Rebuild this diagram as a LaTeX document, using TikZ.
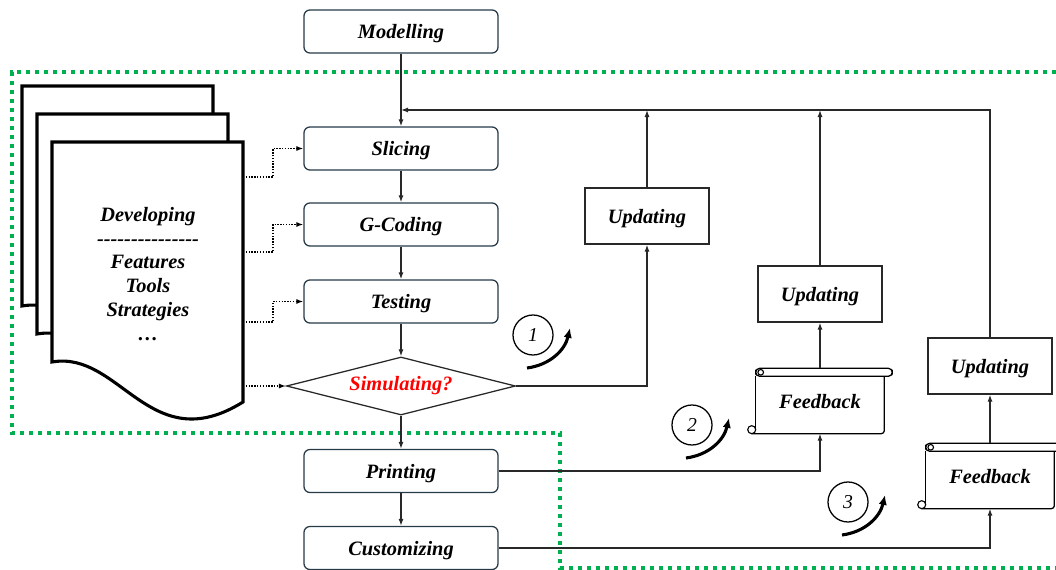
\documentclass[tikz,border=0pt]{standalone}
\usepackage{fontspec}
\setmainfont{Liberation Serif}
\usetikzlibrary{calc,arrows.meta,shapes.geometric}
\definecolor{boxline}{RGB}{38,58,72}
\definecolor{linegray}{RGB}{40,40,40}
\definecolor{zonegreen}{RGB}{0,176,80}
\newcommand\lbl{\fontsize{14.5}{17}\selectfont\bfseries\itshape}
\def\docpage(#1){\draw[docsheet,shift={(#1)}] (52,142) -- (243,142) -- (243,402) .. controls (150,460) and (120,350) .. (52,362) -- cycle;}
\def\scrollframe(#1){%
  \draw[line width=0.9pt, rounded corners=0.1cm] (#1.north west) rectangle ($(#1.north east)+(8,8)$);
  \draw[line width=0.8pt] ($(#1.north west)+(5,4)$) circle[radius=0.07cm];
  \draw[line width=0.9pt] ($(#1.north west)+(0,8)$) -- ($(#1.south west)+(0,-4)$);
  \draw[line width=0.9pt, rounded corners=0.075cm] ($(#1.north east)+(0,8)$) -- (#1.south east) -- ($(#1.south west)+(-4,0)$);
  \draw[line width=0.8pt, fill=white] ($(#1.south west)+(-4,-4)$) circle[radius=0.1cm];}

\begin{document}
\begin{tikzpicture}[x=0.025cm, y=-0.025cm,
  >={Latex[length=5pt,width=3.6pt]},
  stagebox/.style={draw=boxline, line width=0.9pt, rounded corners=0.15cm, fill=white,
    minimum width=4.85cm, minimum height=1.075cm, text depth=0pt, font=\lbl},
  choicebox/.style={diamond, draw=linegray, line width=0.9pt, aspect=4, inner sep=0pt,
    minimum width=5.72cm, minimum height=1.45cm, font=\lbl, text=red},
  updbox/.style={draw=linegray, line width=0.9pt, minimum width=3.1cm, minimum height=1.4cm,
    text depth=0pt, font=\lbl},
  scrollbox/.style={minimum width=3.2cm, minimum height=1.62cm, text depth=0pt, font=\lbl},
  flowarrow/.style={draw=linegray, line width=0.9pt, ->},
  hintarrow/.style={draw=black, line width=0.9pt, dash pattern=on 1pt off 1pt, ->},
  docsheet/.style={draw=black, line width=2.2pt, fill=white},
  greenzone/.style={draw=zonegreen, line width=2.8pt, dash pattern=on 2.8pt off 3.6pt},
  stepnum/.style={circle, draw, line width=0.9pt, minimum size=1cm, inner sep=0pt,
    font=\fontsize{14}{16}\selectfont\itshape},
  swirl/.style={line width=2.2pt, -{Latex[length=7pt,width=6pt]}},
]
  %%%%% START %%%%%
  \useasboundingbox (0,0) rectangle (1056,570);

  % dotted region
  \draw[greenzone] (1056,72) -- (12,72) -- (12,433) -- (560,433) -- (560,568) -- (1056,568);

  % stack of documents
  \docpage(-30,-56)
  \docpage(-15,-28)
  \docpage(0,0)
  \node[font=\lbl, align=center] (devnote) at (148,274)
    {Developing\\{-}{-}{-}{-}{-}{-}{-}{-}{-}{-}{-}{-}{-}{-}{-}\\Features\\Tools\\Strategies\\\ldots};
  \coordinate (doc1) at (243,177);
  \coordinate (doc2) at (243,252);
  \coordinate (doc3) at (243,322);
  \coordinate (doc4) at (243,386);

  % main chain
  \node[stagebox] (model) at (401,31.5) {Modelling};
  \node[stagebox] (slice) at (401,148.5) {Slicing};
  \node[stagebox] (gcode) at (401,224.5) {G-Coding};
  \node[stagebox] (test) at (401,301.5) {Testing};
  \node[choicebox] (sim) at (401,386) {Simulating?};
  \node[stagebox] (print) at (401,471) {Printing};
  \node[stagebox] (custom) at (401,548) {Customizing};

  % loops on the right
  \node[updbox] (upd1) at (647,216) {Updating};
  \node[updbox] (upd2) at (820,294) {Updating};
  \node[updbox] (upd3) at (990,366) {Updating};
  \node[scrollbox] (fb2) at (820,401) {Feedback};
  \node[scrollbox] (fb3) at (990,476) {Feedback};
  \scrollframe(fb2)
  \scrollframe(fb3)
  \coordinate (join) at (401,110);

  \draw[flowarrow] (model) -- (slice);
  \draw[flowarrow] (slice) -- (gcode);
  \draw[flowarrow] (gcode) -- (test);
  \draw[flowarrow] (test) -- (sim);
  \draw[flowarrow] (sim) -- (print);
  \draw[flowarrow] (print) -- (custom);

  \draw[flowarrow] (sim.east) -| (upd1.south);
  \draw[flowarrow] (upd1.north) -- (upd1.north |- join);
  \draw[flowarrow] (print.east) -| (fb2.south);
  \draw[flowarrow] (fb2.north) -- (upd2.south);
  \draw[flowarrow] (upd2.north) -- (upd2.north |- join);
  \draw[flowarrow] (custom.east) -| (fb3.south);
  \draw[flowarrow] (fb3.north) -- (upd3.south);
  \draw[flowarrow] (upd3.north) |- (join);

  % hints from the documents
  \draw[hintarrow] (doc1) -- ++(30,0) |- (slice.west);
  \draw[hintarrow] (doc2) -- ++(30,0) |- (gcode.west);
  \draw[hintarrow] (doc3) -- ++(30,0) |- (test.west);
  \draw[hintarrow] (doc4) -- (sim.west);

  % loop numbers
  \foreach \cx/\cy/\n in {533/335/1, 692/425/2, 848/502/3}{
    \node[stepnum] (step\n) at (\cx,\cy) {\n};
    \draw[swirl] ($(step\n)+(-6,33)$) .. controls ($(step\n)+(17,30)$) and ($(step\n)+(32,15)$) .. ($(step\n)+(37,-7)$);
  }
  %%%%% END %%%%%
\end{tikzpicture}
\end{document}
